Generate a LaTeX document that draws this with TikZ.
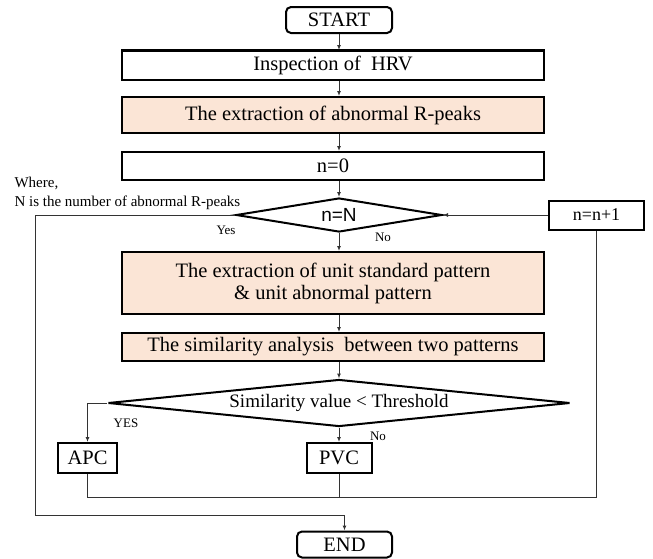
\documentclass[tikz,border=0pt]{standalone}
\usepackage{fontspec}
\setmainfont{Liberation Serif}
\newfontfamily\sansfnt{Liberation Sans}
\usetikzlibrary{shapes.geometric,arrows.meta}
\definecolor{peach}{RGB}{251,229,214}

\begin{document}
\begin{tikzpicture}[x=1pt,y=-1pt,
  box/.style={draw,line width=2pt,inner sep=0pt,font=\fontsize{20.5}{22}\selectfont},
  term/.style={box,rounded corners=5pt},
  fillbox/.style={box,fill=peach},
  test/.style={draw,diamond,line width=2pt,inner sep=0pt},
  lbl/.style={font=\fontsize{13}{15}\selectfont},
  conn/.style={line width=1pt,black!80},
  arr/.style={conn,-{Latex[length=5pt,width=4pt]}}]

\useasboundingbox (0,0) rectangle (653,558);

\node[term,minimum width=106pt,minimum height=26pt] (start) at (339,20) {START};
\node[box,minimum width=422pt,minimum height=29pt] (insp) at (333,65.5) {Inspection of\ \ HRV};
\draw[line width=3pt] (insp.north west) -- (insp.north east);
\node[fillbox,minimum width=422pt,minimum height=36pt] (absr) at (333,115) {The extraction of abnormal R-peaks};
\node[box,minimum width=422pt,minimum height=28pt] (nzero) at (333,166) {n=0};

% loop test
\node[test,aspect=6,minimum width=206pt,minimum height=34pt,font=\sansfnt\fontsize{19}{21}\selectfont] (isend) at (339,215) {n=N};
\node[box,minimum width=95pt,minimum height=29pt,font=\fontsize{18}{20}\selectfont] (incr) at (596.5,215) {n=n+1};

\node[fillbox,minimum width=422pt,minimum height=62pt,align=center] (units) at (333,283) {The extraction of unit standard pattern\\\& unit abnormal pattern};
\node[fillbox,minimum width=422pt,minimum height=28pt] (simil) at (333,347) {The similarity analysis\ \ between two patterns};

% threshold test
\node[test,aspect=9.8,minimum width=462pt,minimum height=47pt,font=\fontsize{19}{21}\selectfont] (thres) at (339,403) {Similarity value < Threshold};
\node[box,minimum width=59pt,minimum height=30pt] (apc) at (87.5,458) {APC};
\node[box,minimum width=65pt,minimum height=30pt] (pvc) at (339,458) {PVC};
\node[term,minimum width=95pt,minimum height=26pt] (finish) at (344.5,544.5) {END};

% notes
\node[lbl,anchor=west,font=\fontsize{15}{17}\selectfont] (where) at (11,183) {Where,};
\node[lbl,anchor=west,font=\fontsize{15}{17}\selectfont] (nnote) at (11,203) {N is the number of abnormal R-peaks};
\node[lbl] (yes1) at (226,230) {Yes};
\node[lbl] (no1) at (383,237) {No};
\node[lbl] (yes2) at (126,423) {YES};
\node[lbl] (no2) at (378,436) {No};

\coordinate (loopy) at (597,497);
\coordinate (outl) at (35,515);

\draw[arr] (start.south) -- (start.south |- insp.north);
\draw[arr] (start |- insp.south) -- (start |- absr.north);
\draw[arr] (start |- absr.south) -- (start |- nzero.north);
\draw[arr] (start |- nzero.south) -- (isend.north);
\draw[arr] (isend.south) -- (isend |- units.north);
\draw[arr] (isend |- units.south) -- (isend |- simil.north);
\draw[arr] (isend |- simil.south) -- (thres.north);
\draw[arr] (thres.west) -| (apc.north);
\draw[arr] (thres.south) -- (pvc.north);
\draw[arr] (incr.west) -- (isend.east);

% back to n=n+1
\draw[conn] (apc.south) |- (incr.south |- loopy) -- (incr.south);
\draw[conn] (pvc.south) -- (pvc.south |- loopy);

% n=N reached
\draw[arr] (isend.west) -| (outl) -| (finish.north);

\end{tikzpicture}
\end{document}
